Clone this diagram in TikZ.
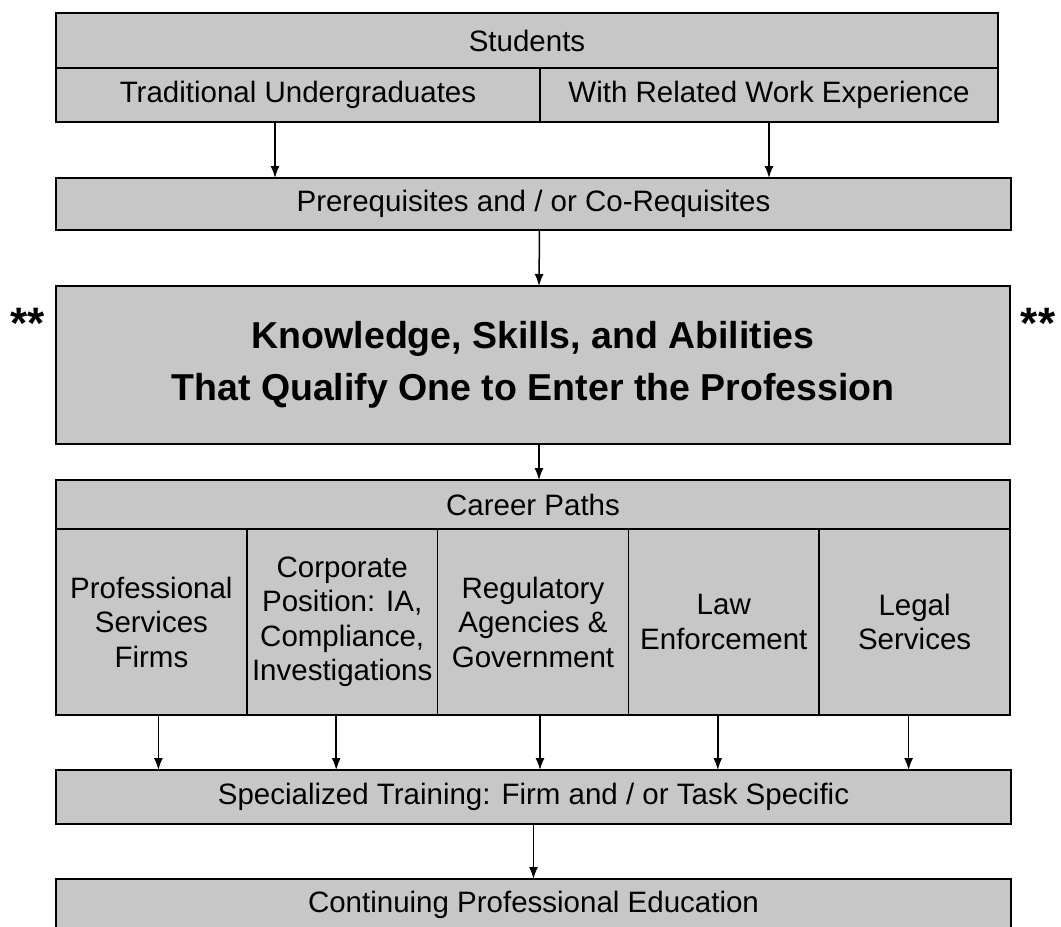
\documentclass[tikz,border=0pt]{standalone}
\usepackage{fontspec}
\setmainfont{Liberation Sans}
\usetikzlibrary{positioning, arrows.meta}
\definecolor{dotfill}{gray}{0.78}

\begin{document}
\begin{tikzpicture}[
    cell/.style={rectangle, draw, line width=1.6pt, fill=dotfill, inner sep=0pt, outer sep=0pt, align=center, font=\fontsize{29.5}{34.5}\selectfont},
    mainbox/.style={cell, font=\fontsize{37.5}{52}\selectfont\bfseries},
    starmark/.style={font=\fontsize{44}{44}\selectfont\bfseries, inner sep=0pt},
    line/.style={draw, line width=1.5pt, -{Latex[length=12pt,width=9pt]}}
]
    \useasboundingbox (0pt,0pt) rectangle (1061pt,-927pt);

    % Nodes
    \node[cell, anchor=north west, minimum width=942pt, minimum height=55pt] (students) at (56pt,-13pt) {Students};
    \node[cell, below=0pt of students.south west, anchor=north west, minimum width=484pt, minimum height=54pt] (trad) {Traditional Undergraduates};
    \node[cell, right=0pt of trad.north east, anchor=north west, minimum width=458pt, minimum height=54pt] (work) {With Related Work Experience};
    \node[cell, below=56pt of trad.south west, anchor=north west, minimum width=955pt, minimum height=52pt] (prereq) {Prerequisites and / or Co-Requisites};
    \node[mainbox, below=56pt of prereq.south west, anchor=north west, minimum width=954pt, minimum height=158pt] (ksa) {Knowledge, Skills, and Abilities\\That Qualify One to Enter the Profession};
    \node[cell, below=36pt of ksa.south west, anchor=north west, minimum width=954pt, minimum height=49pt] (career) {Career Paths};
    \node[cell, below=0pt of career.south west, anchor=north west, minimum width=190.8pt, minimum height=186pt] (firms) {Professional\\Services\\Firms};
    \node[cell, right=0pt of firms.north east, anchor=north west, minimum width=190.8pt, minimum height=186pt] (corp) {Corporate\\Position: IA,\\Compliance,\\Investigations};
    \node[cell, right=0pt of corp.north east, anchor=north west, minimum width=190.8pt, minimum height=186pt] (regul) {Regulatory\\Agencies \&\\Government};
    \node[cell, right=0pt of regul.north east, anchor=north west, minimum width=190.8pt, minimum height=186pt] (law) {Law\\Enforcement};
    \node[cell, right=0pt of law.north east, anchor=north west, minimum width=190.8pt, minimum height=186pt] (legal) {Legal\\Services};
    \node[cell, below=55pt of firms.south west, anchor=north west, minimum width=955pt, minimum height=54pt] (training) {Specialized Training: Firm and / or Task Specific};
    \node[cell, below=55pt of training.south west, anchor=north west, minimum width=955pt, minimum height=52pt] (cpe) {Continuing Professional Education};

    % Marks beside the main box
    \node[starmark] (lstar) at ([xshift=-28pt, yshift=-37pt]ksa.north west) {**};
    \node[starmark] (rstar) at ([xshift=28pt, yshift=-37pt]ksa.north east) {**};

    % Connections
    \path[line] ([xshift=-23pt]trad.south) -- ([xshift=-23pt]trad.south |- prereq.north);
    \path[line] (work.south) -- (work.south |- prereq.north);
    \path[line] ([xshift=6pt]prereq.south) -- ([xshift=6pt]ksa.north);
    \path[line] ([xshift=6pt]ksa.south) -- ([xshift=6pt]career.north);
    \path[line] ([xshift=7pt]firms.south) -- ([xshift=7pt]firms.south |- training.north);
    \path[line] ([xshift=-6pt]corp.south) -- ([xshift=-6pt]corp.south |- training.north);
    \path[line] ([xshift=7pt]regul.south) -- ([xshift=7pt]regul.south |- training.north);
    \path[line] ([xshift=-6pt]law.south) -- ([xshift=-6pt]law.south |- training.north);
    \path[line] ([xshift=-6pt]legal.south) -- ([xshift=-6pt]legal.south |- training.north);
    \path[line] (training.south) -- (cpe.north);
\end{tikzpicture}
\end{document}
